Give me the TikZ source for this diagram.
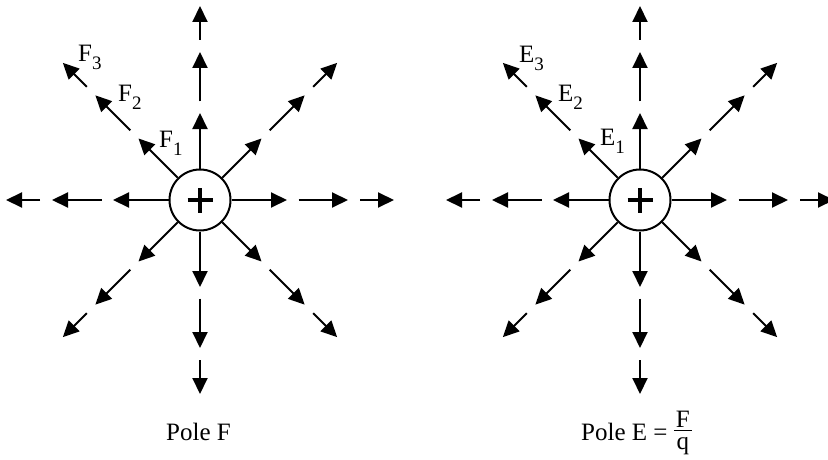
\documentclass[tikz,border=0pt]{standalone}
\usepackage{fontspec}
\setmainfont{Liberation Serif}
\usetikzlibrary{arrows.meta,calc}
\newcommand{\mysub}[1]{\raisebox{-8pt}{\fontsize{19}{19}\selectfont #1}}
\newcommand{\myfrac}[2]{\makebox[18pt][c]{\makebox[0pt][c]{\raisebox{13pt}{#1}}\makebox[0pt][c]{\raisebox{8.6pt}{\rule{18pt}{1.2pt}}}\makebox[0pt][c]{\raisebox{-9.5pt}{#2}}}}
\begin{document}
\begin{tikzpicture}[x=1pt,y=1pt,
  seg/.style={line width=2pt,-{Triangle[length=16pt,width=15pt]}},
  charge/.style={circle,draw,line width=2pt,minimum size=61pt,inner sep=0pt},
  plusbar/.style={line width=4pt},
  lbl/.style={font=\fontsize{25}{25}\selectfont,inner sep=0pt}]
\useasboundingbox (0,0) rectangle (828,459);
\clip (0,0) rectangle (828,459);
\foreach \n/\cx in {L/200,R/640}{
  \node[charge] (\n) at (\cx,259) {};
  \draw[plusbar] ($(\n)+(-12.5,0)$) -- ($(\n)+(12.5,0)$);
  \draw[plusbar] ($(\n)+(0,-12.5)$) -- ($(\n)+(0,12.5)$);
  \foreach \a in {0,45,...,315}{
    \draw[seg] (\n.\a) -- ($(\n)+(\a:87)$);
    \draw[seg] ($(\n)+(\a:98.5)$) -- ($(\n)+(\a:148)$);
    \draw[seg] ($(\n)+(\a:160)$) -- ($(\n)+(\a:194)$);
  }
}
\node[lbl,anchor=base west] (f1) at (159,312) {F\mysub{1}};
\node[lbl,anchor=base west] (f2) at (118,357) {F\mysub{2}};
\node[lbl,anchor=base west] (f3) at (78,397) {F\mysub{3}};
\node[lbl,anchor=base west] (e1) at (600,313) {E\mysub{1}};
\node[lbl,anchor=base west] (e2) at (558,357) {E\mysub{2}};
\node[lbl,anchor=base west] (e3) at (519,396) {E\mysub{3}};
\node[lbl,anchor=base] (pf) at (198.5,19) {Pole F};
\node[lbl,anchor=base west] (pe) at (581,19) {Pole E = \myfrac{F}{q}};
\end{tikzpicture}
\end{document}
